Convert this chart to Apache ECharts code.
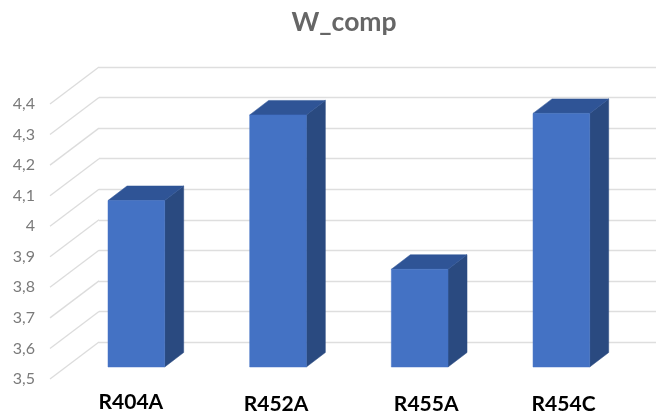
<!DOCTYPE html>
<html>
<head>
<meta charset="utf-8">
<style>html,body{margin:0;padding:0;background:#fff}#c{width:656px;height:412px}</style>
<script src="https://cdn.jsdelivr.net/npm/echarts@6/dist/echarts.min.js"></script>
</head>
<body>
<div id="c"></div>
<script>
const categories = ['R404A', 'R452A', 'R455A', 'R454C'];
const values = [4.045, 4.325, 3.82, 4.33];
const tickValues = [3.5, 3.6, 3.7, 3.8, 3.9, 4.0, 4.1, 4.2, 4.3, 4.4];

const FONT = 'Lato';
const WALL = [49, -37];     // floor depth: front edge to back wall
const BAR_POS = [15.5, -12]; // where a bar's front face stands on the floor
const BAR_DEPTH = [19, -14.5];
const LABEL_NUDGE_X = [10, 13.5, 22, 17.7];
const LABEL_NUDGE_Y = [0, 2, 2, 2];

const chart = echarts.init(document.getElementById('c'), null, { renderer: 'canvas' });

function renderDiagonal(params, api) {
  const p = api.coord([0, api.value(0)]);
  const x = params.coordSys.x;
  return {
    type: 'line',
    shape: { x1: x, y1: p[1], x2: x + WALL[0], y2: p[1] + WALL[1] },
    style: { stroke: '#dcdcdc', lineWidth: 1.3 }
  };
}

function renderBar(params, api) {
  const base = api.coord([api.value(0), 3.5]);
  const top = api.coord([api.value(0), api.value(1)]);
  const w = api.size([1, 0])[0] * 0.4;
  const l = base[0] + BAR_POS[0] - w / 2;
  const r = l + w;
  const b = base[1] + BAR_POS[1];
  const t = top[1] + BAR_POS[1];
  const dx = BAR_DEPTH[0], dy = BAR_DEPTH[1];
  const poly = (points, fill) => ({
    type: 'polygon',
    shape: { points },
    style: { fill, stroke: fill, lineWidth: 0.5 }
  });
  return {
    type: 'group',
    children: [
      poly([[r, b], [r + dx, b + dy], [r + dx, t + dy], [r, t]], '#2A4A80'),
      poly([[l, t], [r, t], [r + dx, t + dy], [l + dx, t + dy]], '#2F5496'),
      poly([[l, t], [r, t], [r, b], [l, b]], '#4472C4')
    ]
  };
}

chart.setOption({
  animation: false,
  backgroundColor: '#fff',
  title: {
    text: 'W_comp',
    left: 339,
    textAlign: 'center',
    top: 4,
    textStyle: { fontFamily: FONT, fontSize: 26.5, fontWeight: 'bold', color: '#666666' }
  },
  grid: [
    { left: 50, top: 104, width: 566.7, height: 275, outerBoundsMode: 'none' },
    { left: 99, top: 67, width: 566.7, height: 275, outerBoundsMode: 'none' }
  ],
  xAxis: [
    {
      gridIndex: 0,
      type: 'category',
      data: categories.map((value, i) => ({
        value,
        textStyle: {
          padding: [LABEL_NUDGE_Y[i], 0, 0, LABEL_NUDGE_X[i] * 2]
        }
      })),
      axisLine: { show: false },
      axisTick: { show: false },
      splitLine: { show: false },
      axisLabel: {
        margin: 13,
        fontFamily: FONT,
        fontSize: 21,
        fontWeight: 'bold',
        color: '#000',
        interval: 0,
        hideOverlap: false
      }
    },
    {
      gridIndex: 1,
      type: 'category',
      data: categories,
      axisLine: { show: false },
      axisTick: { show: false },
      axisLabel: { show: false },
      splitLine: { show: false }
    }
  ],
  yAxis: [
    {
      gridIndex: 0,
      type: 'value',
      min: 3.5,
      max: 4.4,
      interval: 0.1,
      axisLine: { show: false },
      axisTick: { show: false },
      splitLine: { show: false },
      axisLabel: {
        margin: 15,
        fontFamily: FONT,
        fontSize: 16,
        color: '#7A7A7A',
        padding: [0, 0, 4, 0],
        formatter: v => String(+v.toFixed(1)).replace('.', ',')
      }
    },
    {
      gridIndex: 1,
      type: 'value',
      min: 3.5,
      max: 4.4,
      interval: 0.1,
      axisLine: { show: false },
      axisTick: { show: false },
      axisLabel: { show: false },
      splitLine: { show: true, lineStyle: { color: '#DEDEDE', width: 1.4 } }
    }
  ],
  series: [
    {
      name: 'floor lines',
      type: 'custom',
      xAxisIndex: 0,
      yAxisIndex: 0,
      coordinateSystem: 'cartesian2d',
      clip: false,
      silent: true,
      z: 1,
      renderItem: renderDiagonal,
      encode: { y: 0 },
      data: tickValues.map(v => [v])
    },
    {
      name: 'W_comp',
      type: 'custom',
      xAxisIndex: 0,
      yAxisIndex: 0,
      coordinateSystem: 'cartesian2d',
      clip: false,
      z: 3,
      renderItem: renderBar,
      encode: { x: 0, y: 1 },
      data: values.map((v, i) => [i, v])
    }
  ]
});
</script>
</body>
</html>
